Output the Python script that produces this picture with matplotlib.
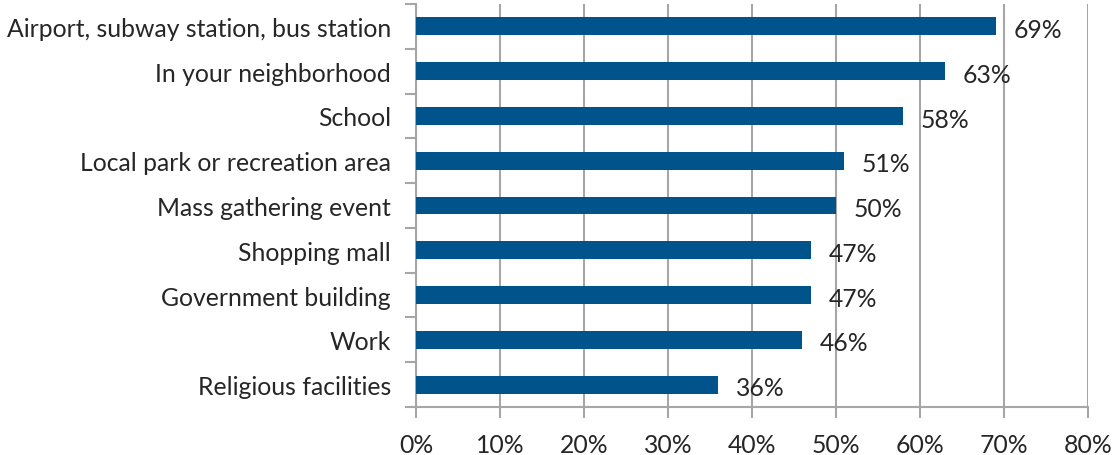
import matplotlib
matplotlib.use("Agg")
import matplotlib.pyplot as plt
import numpy as np

categories = [
    "Airport, subway station, bus station",
    "In your neighborhood",
    "School",
    "Local park or recreation area",
    "Mass gathering event",
    "Shopping mall",
    "Government building",
    "Work",
    "Religious facilities",
]
values = [69, 63, 58, 51, 50, 47, 47, 46, 36]
x_ticks = [0, 10, 20, 30, 40, 50, 60, 70, 80]

plt.rcParams["font.family"] = ["Lato", "DejaVu Sans"]

bar_color = "#00538B"
grid_color = "#A6A6A6"
text_color = "#262626"
fs = 17.8

fig = plt.figure(figsize=(11.14, 4.56), dpi=100)
ax = fig.add_axes([0.3734, 0.1053, 0.6033, 0.8837])

n = len(categories)
y = np.arange(n)
ax.barh(y, values, height=0.4, color=bar_color, zorder=3)

for yi, v in zip(y, values):
    ax.text(v + 2.1, yi + 0.07, f"{v}%", va="center", ha="left", fontsize=fs,
            color=text_color)

ax.set_xlim(0, 80)
ax.set_ylim(n - 0.5, -0.5)
ax.set_xticks(x_ticks)
ax.set_xticklabels([f"{t}%" for t in x_ticks], fontsize=fs, color=text_color)
ax.set_yticks(y)
ax.set_yticklabels(categories, fontsize=fs, color=text_color)

# y ticks sit between the categories, labels centred on the bars
ax.set_yticks(np.arange(-0.5, n, 1), minor=True)
ax.tick_params(axis="y", which="major", length=0, pad=18)
ax.tick_params(axis="y", which="minor", length=8, width=1.5, color=grid_color)
ax.tick_params(axis="x", length=8, width=1.5, color=grid_color, pad=11)

ax.grid(axis="x", color=grid_color, linewidth=1.5, zorder=0)
for s in ["top", "right"]:
    ax.spines[s].set_visible(False)
for s in ["left", "bottom"]:
    ax.spines[s].set_color(grid_color)
    ax.spines[s].set_linewidth(1.5)

fig.savefig("out.png", dpi=100)
